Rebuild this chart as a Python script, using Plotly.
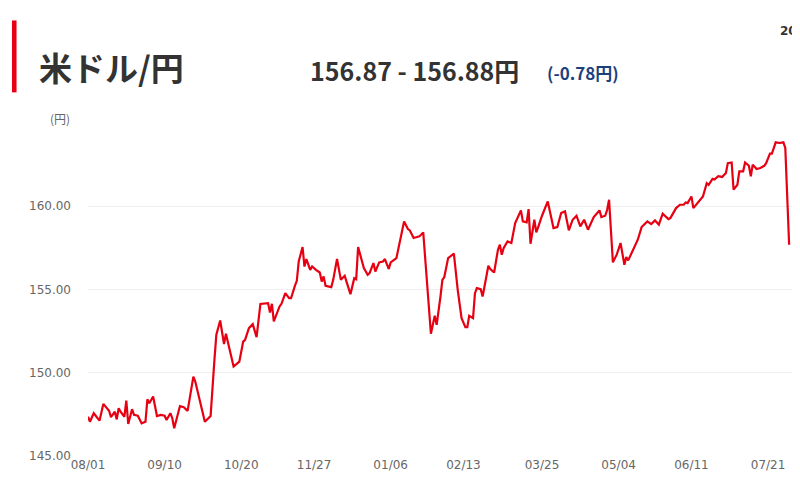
import pandas as pd
import plotly.graph_objects as go

# 米ドル/円 daily rate, one year from 2023-08-01
start_date = "2023-08-01"
day_offsets = [
    0, 1, 3, 6, 8, 11, 12, 14, 15, 16, 17, 19, 20, 21, 23, 24, 26, 28, 30, 31,
    32, 34, 36, 38, 40, 41, 43, 44, 45, 48, 50, 52, 55, 56, 61, 64, 66, 67, 69, 71,
    72, 76, 79, 81, 82, 84, 86, 88, 90, 93, 94, 95, 96, 97, 100, 101, 103, 105, 106, 108,
    109, 110, 112, 113, 114, 116, 117, 119, 121, 122, 123, 124, 127, 128, 130, 132, 134, 137, 139, 140,
    141, 144, 146, 147, 149, 150, 152, 154, 155, 157, 158, 161, 163, 165, 167, 168, 170, 173, 175, 179,
    181, 182, 184, 185, 186, 188, 191, 193, 195, 197, 198, 199, 201, 202, 203, 205, 206, 209, 210, 212,
    214, 215, 216, 217, 219, 221, 223, 226, 227, 229, 230, 231, 233, 234, 235, 237, 240, 241, 243, 245,
    247, 249, 251, 253, 255, 257, 259, 261, 264, 267, 268, 270, 271, 272, 274, 276, 278, 280, 281, 282,
    285, 287, 289, 292, 294, 296, 298, 300, 303, 304, 307, 309, 311, 312, 313, 315, 316, 319, 321, 323,
    324, 326, 327, 329, 331, 333, 334, 336, 337, 339, 340, 342, 343, 345, 346, 347, 349, 351, 353, 354,
    356, 357, 359, 361, 363, 364, 366,
]
rates = [
    147.36, 147.06, 147.57, 147.12, 148.13, 147.72, 147.33, 147.66, 147.20, 147.87,
    147.66, 147.36, 148.33, 146.92, 147.81, 147.47, 147.42, 146.96, 147.06, 148.41,
    148.17, 148.57, 147.40, 147.47, 147.42, 147.16, 147.57, 147.27, 146.67, 148.00,
    147.93, 147.71, 149.77, 149.47, 147.06, 147.40, 150.77, 152.28, 153.14, 151.73,
    152.34, 150.37, 150.67, 151.87, 151.98, 152.68, 152.92, 152.14, 154.13, 154.14,
    154.18, 153.62, 154.14, 153.08, 153.98, 154.14, 154.78, 154.48, 154.48, 155.22,
    155.52, 156.68, 157.55, 156.38, 156.83, 156.18, 156.38, 156.18, 156.02, 155.48,
    155.78, 155.22, 155.14, 155.58, 156.83, 155.58, 155.82, 154.72, 155.68, 155.62,
    157.55, 156.29, 155.88, 155.99, 156.59, 156.08, 156.63, 156.68, 156.83, 156.23,
    156.63, 156.89, 158.03, 159.09, 158.63, 158.55, 158.09, 158.19, 158.43, 152.34,
    153.42, 152.88, 154.58, 155.58, 155.75, 156.89, 157.15, 154.98, 153.28, 152.74,
    152.74, 153.42, 153.28, 154.78, 155.08, 155.02, 154.58, 156.43, 156.23, 156.02,
    157.39, 157.69, 157.09, 157.49, 157.89, 157.79, 158.99, 159.75, 159.09, 159.03,
    159.83, 157.75, 159.19, 158.43, 158.75, 159.43, 160.29, 159.79, 158.69, 158.75,
    159.59, 159.69, 158.55, 159.19, 159.43, 158.79, 159.19, 158.59, 159.35, 159.75,
    159.35, 159.43, 159.79, 160.39, 156.63, 157.09, 157.79, 156.49, 156.95, 156.75,
    157.49, 157.99, 158.75, 159.09, 158.93, 159.15, 158.89, 159.55, 159.23, 159.29,
    159.89, 160.09, 160.09, 160.23, 160.19, 160.59, 159.89, 160.29, 160.59, 161.39,
    161.29, 161.64, 161.60, 161.80, 161.76, 162.00, 162.59, 162.63, 161.00, 161.29,
    162.10, 162.10, 162.63, 162.43, 161.80, 162.50, 162.24, 162.30, 162.43, 162.59,
    163.16, 163.16, 163.84, 163.80, 163.84, 163.50, 157.69,
]
tick_dates = ["2023-08-01", "2023-09-10", "2023-10-20", "2023-11-27", "2024-01-06",
              "2024-02-13", "2024-03-25", "2024-05-04", "2024-06-11", "2024-07-21"]
y_ticks = [145, 150, 155, 160, 165]
y_labels = ["145.00", "150.00", "155.00", "160.00", ""]

dates = pd.Timestamp(start_date) + pd.to_timedelta(day_offsets, unit="D")

fig = go.Figure(go.Scatter(
    x=dates, y=rates, mode="lines",
    line=dict(color="#e60012", width=2.2),
    hoverinfo="skip"))

tick_font = dict(family="DejaVu Sans", size=12, color="#666666")

# the page body adds an 8px margin, so the figure is 8px smaller on each axis
fig.update_layout(
    width=792, height=491,
    margin=dict(l=80, r=8, t=115, b=43),
    paper_bgcolor="white", plot_bgcolor="white",
    showlegend=False,
    xaxis=dict(
        range=["2023-08-01", "2024-08-02 12:00"],
        tickvals=tick_dates, tickformat="%m/%d",
        tickfont=tick_font, showgrid=False, zeroline=False,
        showline=False, ticks=""),
    yaxis=dict(
        range=[145, 165], tickvals=y_ticks, ticktext=y_labels,
        tickfont=tick_font, gridcolor="#eeeeee", gridwidth=1,
        zeroline=False, showline=False, ticks="", ticklabelstandoff=16),
)

# heading block above the chart
fig.add_shape(type="rect", xref="paper", yref="paper",
              x0=-0.108, x1=-0.1015, y0=1.092, y1=1.308,
              fillcolor="#e60012", line_width=0)
fig.add_annotation(xref="paper", yref="paper", x=-0.073, y=1.167,
                   xanchor="left", yanchor="middle", showarrow=False,
                   text="<b>米ドル/円</b>",
                   font=dict(family="Noto Sans CJK JP", size=33, color="#333333"))
fig.add_annotation(xref="paper", yref="paper", x=0.312, y=1.159,
                   xanchor="left", yanchor="middle", showarrow=False,
                   text="<b>156.87 - 156.88円</b>",
                   font=dict(family="Noto Sans CJK JP", size=25, color="#333333"))
fig.add_annotation(xref="paper", yref="paper", x=0.649, y=1.152,
                   xanchor="left", yanchor="middle", showarrow=False,
                   text="<b>(-0.78円)</b>",
                   font=dict(family="Noto Sans CJK JP", size=17, color="#1e3f7e"))
fig.add_annotation(xref="paper", yref="paper", x=-0.023, y=1.015,
                   xanchor="right", yanchor="middle", showarrow=False,
                   text="(円)",
                   font=dict(family="Noto Sans CJK JP", size=12, color="#666666"))
fig.add_annotation(xref="paper", yref="paper", x=0.98, y=1.277,
                   xanchor="left", yanchor="middle", showarrow=False,
                   text="<b>2024/08/01</b>",
                   font=dict(family="DejaVu Sans", size=12, color="#333333"))

fig.write_html("out.html")
